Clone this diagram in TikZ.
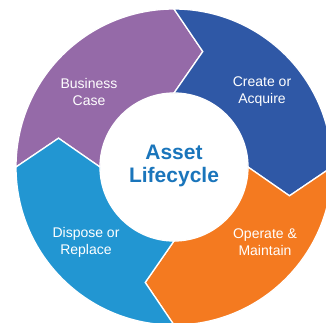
\documentclass[tikz,border=0pt]{standalone}
\usepackage{fontspec}
\setmainfont{Liberation Sans}
\definecolor{cpurple}{HTML}{956AA8}
\definecolor{cdblue}{HTML}{2F58A6}
\definecolor{corange}{HTML}{F47A20}
\definecolor{clblue}{HTML}{2296D2}
\definecolor{ctext}{HTML}{1A75BB}
\tikzset{
  seg/.style={draw=white, line width=1.3pt, line join=miter},
  lbl/.style={text=white, align=center, font=\fontsize{14}{17}\selectfont},
  ttl/.style={text=ctext, align=center, font=\bfseries\fontsize{21}{23}\selectfont}
}
\newcommand{\arrowseg}[3]{%
  \fill[seg, fill=#3] (#1:158) arc[start angle=#1, end angle=#2, radius=158]
    -- (#2-14:119) -- (#2:74) arc[start angle=#2, end angle=#1, radius=74]
    -- (#1-14:119) -- cycle;}
\begin{document}
\begin{tikzpicture}[x=1pt,y=1pt]
\useasboundingbox (0,0) rectangle (326,-322);
\begin{scope}
\clip (0,0) rectangle (326,-322);
\begin{scope}[shift={(174,-167)}]
\arrowseg{180}{90}{cpurple}
\arrowseg{90}{0}{cdblue}
\arrowseg{0}{-90}{corange}
\arrowseg{270}{180}{clblue}
\end{scope}
\end{scope}
\node[lbl] (bc) at (89,-92) {Business\\Case};
\node[lbl] (ca) at (262,-92) {Create or\\Acquire};
\node[lbl] (dr) at (86,-242) {Dispose or\\Replace};
\node[lbl] (om) at (265,-242) {Operate \&\\Maintain};
\node[ttl] (al) at (174,-166) {Asset\\Lifecycle};
\end{tikzpicture}
\end{document}
